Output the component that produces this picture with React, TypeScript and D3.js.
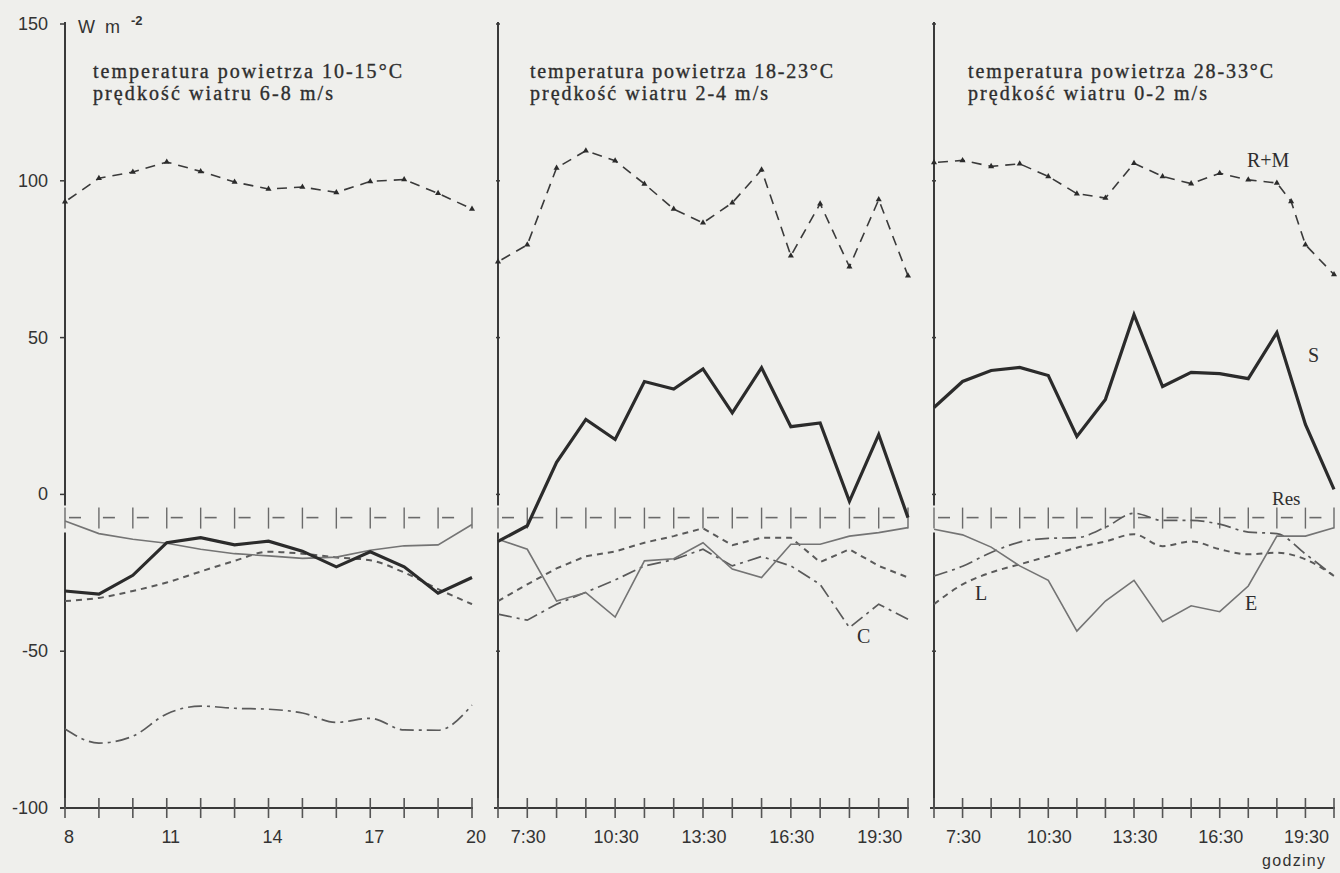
import React from "react";
import * as d3 from "d3";

// ---------- data ----------
const HOURS_P1 = [8, 9, 10, 11, 12, 13, 14, 15, 16, 17, 18, 19, 20];
const HOURS_P23 = [6.5, 7.5, 8.5, 9.5, 10.5, 11.5, 12.5, 13.5, 14.5, 15.5, 16.5, 17.5, 18.5, 19.5, 20.5];
const HOURS_P3_RM = [6.5, 7.5, 8.5, 9.5, 10.5, 11.5, 12.5, 13.5, 14.5, 15.5, 16.5, 17.5, 18.5, 19, 19.5, 20.5];

const LABELS_P1 = [8, 11, 14, 17, 20];
const LABELS_P23 = [7.5, 10.5, 13.5, 16.5, 19.5];
const Y_TICKS = [-100, -50, 0, 50, 100, 150];

// panel 1: 10-15°C, 6-8 m/s
const P1_RM = [93.3, 100.8, 102.8, 106, 103, 99.6, 97.4, 98, 96.3, 99.8, 100.4, 96, 91];
const P1_S = [-30.8, -31.8, -25.8, -15.4, -13.8, -16.1, -14.9, -18.1, -23.1, -18.3, -23.1, -31.5, -26.5];
const P1_E = [-8.5, -12.5, -14.3, -15.6, -17.5, -18.9, -19.6, -20.4, -20, -17.8, -16.4, -16.1, -9.6];
const P1_L = [-34, -33, -30.8, -28.1, -24.6, -21.2, -18.3, -18.9, -20.1, -21, -24.9, -30.2, -35];
const P1_C = [-74.8, -79.3, -77.1, -70, -67.5, -68.2, -68.5, -69.7, -72.7, -71.4, -75.1, -75.2, -67.2];
const P1_RES = [-7.4, -7.4, -7.4, -7.4, -7.4, -7.4, -7.4, -7.4, -7.4, -7.4, -7.4, -7.4, -7.4];

// panel 2: 18-23°C, 2-4 m/s
const P2_RM = [74.2, 79.6, 104.1, 109.6, 106.4, 99, 91, 86.6, 93, 103.5, 76.1, 92.7, 72.6, 94, 69.7];
const P2_S = [-15, -10, 10.2, 23.9, 17.5, 36, 33.6, 40, 26, 40.4, 21.6, 22.8, -2.2, 19.1, -7.4];
const P2_E = [-14.3, -17.5, -34, -31.3, -39.1, -21.2, -20.5, -15.4, -23.8, -26.5, -15.9, -15.9, -13.3, -12.2, -10.6];
const P2_L = [-34, -28.7, -23.6, -19.7, -18.2, -15.4, -13.3, -10.8, -16.2, -13.8, -13.8, -21.6, -17.5, -22.8, -26.5];
const P2_C = [-38.2, -40.1, -35, -31.2, -27.3, -22.8, -20.8, -17.5, -22.8, -19.8, -22.8, -28.7, -42.5, -35, -39.8];
const P2_RES = [-7.4, -7.4, -7.4, -7.4, -7.4, -7.4, -7.4, -7.4, -7.4, -7.4, -7.4, -7.4, -7.4, -7.4, -7.4];

// panel 3: 28-33°C, 0-2 m/s
const P3_RM = [105.8, 106.5, 104.6, 105.4, 101.4, 95.9, 94.5, 105.6, 101.4, 99.1, 102.4, 100.3, 99.3, 93.4, 79.6, 70.1];
const P3_S = [27.7, 36, 39.5, 40.5, 37.9, 18.5, 30.3, 57.3, 34.4, 38.9, 38.5, 36.9, 51.6, 22.3, 1.6];
const P3_E = [-11.1, -12.9, -16.8, -22.8, -27.4, -43.6, -34, -27.4, -40.6, -35.5, -37.4, -29.2, -13.3, -13.3, -10.6];
const P3_L = [-35, -28.7, -24.9, -22.3, -19.7, -17, -15, -12.7, -16.5, -15, -17.5, -19.1, -18.6, -20.7, -26];
const P3_C = [-26, -22.9, -18.5, -15.2, -14, -13.8, -10.5, -6, -8.3, -8.3, -9.5, -12, -12.5, -19, -26];
const P3_RES = [-7.4, -7.4, -7.4, -7.4, -7.4, -7.4, -7.4, -7.4, -7.4, -7.4, -7.4, -7.4, -7.4, -7.4, -7.4];

const TITLES_1 = ["temperatura powietrza 10-15°C", "prędkość  wiatru 6-8 m/s"];
const TITLES_2 = ["temperatura powietrza 18-23°C", "prędkość  wiatru 2-4 m/s"];
const TITLES_3 = ["temperatura powietrza 28-33°C", "prędkość  wiatru 0-2 m/s"];

// ---------- layout ----------
const W = 1340;
const H = 873;
const Y_TOP = 24;
const Y_BOT = 808;
const y = d3.scaleLinear().domain([-100, 150]).range([Y_BOT, Y_TOP]);

const SANS = "'Liberation Sans', Arial, sans-serif";
const SERIF = "'Liberation Serif', 'Times New Roman', serif";
const BG = "#efefec";

const fmt30 = (h: number) => `${Math.floor(h)}:30`;

const panels = [
  {
    x: d3.scaleLinear().domain([8, 20]).range([65, 472]),
    hours: HOURS_P1,
    rmHours: HOURS_P1,
    rm: P1_RM, s: P1_S, e: P1_E, l: P1_L, c: P1_C, res: P1_RES,
    labels: LABELS_P1,
    fmt: (h: number) => `${h}`,
    titles: TITLES_1,
    titleX: 93,
    titleW: [309, 240],
    smooth: true,
  },
  {
    x: d3.scaleLinear().domain([6.5, 20.5]).range([498, 908]),
    hours: HOURS_P23,
    rmHours: HOURS_P23,
    rm: P2_RM, s: P2_S, e: P2_E, l: P2_L, c: P2_C, res: P2_RES,
    labels: LABELS_P23,
    fmt: fmt30,
    titles: TITLES_2,
    titleX: 530,
    titleW: [303, 238],
    smooth: false,
  },
  {
    x: d3.scaleLinear().domain([6.5, 20.5]).range([934, 1334]),
    hours: HOURS_P23,
    rmHours: HOURS_P3_RM,
    rm: P3_RM, s: P3_S, e: P3_E, l: P3_L, c: P3_C, res: P3_RES,
    labels: LABELS_P23,
    fmt: fmt30,
    titles: TITLES_3,
    titleX: 968,
    titleW: [305, 239],
    smooth: true,
  },
];

const triangle = d3.symbol().type(d3.symbolTriangle).size(16)();

function Panel({ p, idx }: { p: any; idx: number }) {
  const x = p.x;
  const x0 = x.range()[0];
  const mk = (vals: number[], hrs: number[], curve: any = d3.curveLinear) =>
    d3
      .line<number>()
      .x((_, i) => x(hrs[i]))
      .y((v) => y(v))
      .curve(curve)(vals) || "";
  const smoothCurve = p.smooth ? d3.curveMonotoneX : d3.curveLinear;
  const resY = y(p.res[0]);
  return (
    <g>
      {/* vertical axis with break at Res band */}
      <line x1={x0} x2={x0} y1={Y_TOP - 2} y2={resY - 12} stroke="#3a3a3a" strokeWidth={2} />
      <line x1={x0} x2={x0} y1={resY + 15} y2={Y_BOT} stroke="#3a3a3a" strokeWidth={2} />
      {Y_TICKS.map((t) => (
        <line
          key={t}
          x1={idx === 0 ? x0 - 5 : x0 - 2}
          x2={idx === 0 ? x0 : x0 + 2}
          y1={y(t)}
          y2={y(t)}
          stroke="#3a3a3a"
          strokeWidth={1.5}
        />
      ))}
      {/* horizontal axis */}
      <line x1={x0 - (idx === 0 ? 5 : 4)} x2={x.range()[1] + 1} y1={Y_BOT} y2={Y_BOT} stroke="#3a3a3a" strokeWidth={2.2} />
      {p.hours.map((h: number) => (
        <line key={h} x1={x(h)} x2={x(h)} y1={Y_BOT - 10} y2={Y_BOT + 10} stroke="#555" strokeWidth={1.6} />
      ))}
      {p.labels.map((h: number) => (
        <text
          key={h}
          x={x(h) + (idx === 0 ? 4 : 1)}
          y={843}
          textAnchor="middle"
          fontFamily={SANS}
          fontSize={18}
          fill="#333"
        >
          {p.fmt(h)}
        </text>
      ))}

      {/* titles */}
      {p.titles.map((t: string, i: number) => (
        <text
          key={i}
          x={p.titleX}
          y={78 + i * 22}
          fontFamily={SERIF}
          fontSize={20}
          fill="#2e2e2e"
          stroke="#2e2e2e"
          strokeWidth={0.35}
          textLength={p.titleW[i]}
          lengthAdjust="spacing"
        >
          {t}
        </text>
      ))}

      {/* Res line: vertical ticks with short dashes */}
      {p.hours.map((h: number, i: number) => (
        <g key={"res" + i}>
          <line x1={x(h)} x2={x(h)} y1={y(p.res[i]) - 10} y2={y(p.res[i]) + 11} stroke="#6a6a6a" strokeWidth={1.4} />
          {i < p.hours.length - 1 && (
            <line
              x1={x(h) + 4}
              x2={x(h) + 16}
              y1={y(p.res[i])}
              y2={y(p.res[i + 1])}
              stroke="#6a6a6a"
              strokeWidth={1.6}
            />
          )}
        </g>
      ))}

      {/* C: dash-dot */}
      <path d={mk(p.c, p.hours, smoothCurve)} fill="none" stroke="#5a5a5a" strokeWidth={1.7} strokeDasharray="14,5,3,5" />
      {/* L: short dash */}
      <path d={mk(p.l, p.hours, smoothCurve)} fill="none" stroke="#5a5a5a" strokeWidth={2} strokeDasharray="6,5" />
      {/* E: thin solid */}
      <path d={mk(p.e, p.hours)} fill="none" stroke="#747474" strokeWidth={1.6} />
      {/* S: thick solid */}
      <path d={mk(p.s, p.hours)} fill="none" stroke="#2b2b2b" strokeWidth={3.2} strokeLinejoin="miter" />
      {/* R+M: dashed with markers */}
      <path d={mk(p.rm, p.rmHours)} fill="none" stroke="#3a3a3a" strokeWidth={1.6} strokeDasharray="10,7" strokeDashoffset={-4} />
      {p.rmHours.map((h: number, i: number) => (
        <path key={"m" + i} d={triangle} transform={`translate(${x(h)},${y(p.rm[i])})`} fill="#2b2b2b" />
      ))}
    </g>
  );
}

export default function App() {
  return (
    <div style={{ position: "absolute", left: 0, top: 0, width: W, height: H }}>
      <svg width={W} height={H} viewBox={`0 0 ${W} ${H}`} style={{ display: "block" }}>
        <rect x={0} y={0} width={W} height={H} fill={BG} />
        {/* y tick labels */}
        {Y_TICKS.map((t) => (
          <text
            key={t}
            x={48}
            y={y(t) + 6}
            textAnchor="end"
            fontFamily={SANS}
            fontSize={18}
            fill="#333"
          >
            {t}
          </text>
        ))}
        <text x={78} y={33} fontFamily={SANS} fontSize={18} fill="#333" textLength={42} lengthAdjust="spacing">
          W m
        </text>
        <text x={131} y={25} fontFamily={SANS} fontSize={13} fontWeight="bold" fill="#333">
          -2
        </text>
        {panels.map((p, i) => (
          <Panel key={i} p={p} idx={i} />
        ))}
        {/* series labels */}
        <text x={1247} y={167} fontFamily={SERIF} fontSize={20} fill="#2e2e2e">R+M</text>
        <text x={1308} y={362} fontFamily={SERIF} fontSize={20} fill="#2e2e2e">S</text>
        <text x={1272} y={505} fontFamily={SERIF} fontSize={19} fill="#2e2e2e">Res</text>
        <text x={1245} y={610} fontFamily={SERIF} fontSize={20} fill="#2e2e2e">E</text>
        <text x={975} y={600} fontFamily={SERIF} fontSize={20} fill="#2e2e2e">L</text>
        <text x={857} y={643} fontFamily={SERIF} fontSize={20} fill="#2e2e2e">C</text>
        <text x={1262} y={866} fontFamily={SANS} fontSize={16} fill="#333" textLength={63} lengthAdjust="spacing">
          godziny
        </text>
      </svg>
    </div>
  );
}
